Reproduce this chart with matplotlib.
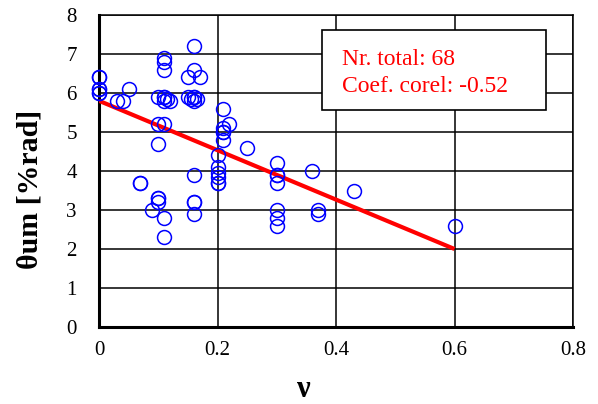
import matplotlib
matplotlib.use("Agg")
import matplotlib.pyplot as plt
from matplotlib.patches import Rectangle
import numpy as np

plt.rcParams['font.family'] = ['Liberation Serif', 'DejaVu Serif']

nu = [0, 0, 0, 0, 0,
      0.03, 0.04, 0.05, 0.07, 0.07, 0.09,
      0.10, 0.10, 0.10, 0.10, 0.10,
      0.11, 0.11, 0.11, 0.11, 0.11, 0.11, 0.11, 0.11,
      0.115, 0.12, 0.15, 0.15, 0.155,
      0.16, 0.16, 0.16, 0.16, 0.16, 0.16, 0.16, 0.16,
      0.165, 0.17,
      0.20, 0.20, 0.20, 0.20, 0.20,
      0.21, 0.21, 0.21, 0.21, 0.22, 0.25,
      0.30, 0.30, 0.30, 0.30, 0.30, 0.30,
      0.36, 0.37, 0.37, 0.43, 0.60,
      0.30, 0.20, 0.21, 0.11, 0.16, 0.10, 0.0]
theta = [6.4, 6.4, 6.1, 6.0, 6.0,
         5.8, 5.8, 6.1, 3.7, 3.7, 3.0,
         5.9, 5.2, 4.7, 3.3, 3.2,
         6.9, 6.8, 6.6, 5.9, 5.8, 5.2, 2.8, 2.3,
         5.85, 5.8, 6.4, 5.9, 5.85,
         7.2, 6.6, 5.9, 5.8, 3.9, 3.2, 3.2, 2.9,
         5.85, 6.4,
         4.4, 4.1, 3.95, 3.85, 3.7,
         5.6, 5.1, 5.0, 4.8, 5.2, 4.6,
         4.2, 3.9, 3.7, 3.0, 2.8, 2.6,
         4.0, 3.0, 2.9, 3.5, 2.6,
         3.9, 3.7, 5.0, 5.9, 5.9, 3.3, 6.1]

fit_x = [0.0, 0.6]
fit_y = [5.8, 2.0]

xticks = [0, 0.2, 0.4, 0.6, 0.8]
xticklabels = ['0', '0.2', '0.4', '0.6', '0.8']
yticks = [0, 1, 2, 3, 4, 5, 6, 7, 8]

box_lines = ['Nr. total: 68', 'Coef. corel: -0.52']

fig = plt.figure(figsize=(5.98, 4.04), dpi=100)
ax = fig.add_axes([99/598, 1-327/404, 474/598, 312/404])

ax.set_xlim(0, 0.8)
ax.set_ylim(0, 8)
ax.set_xticks(xticks)
ax.set_xticklabels(xticklabels)
ax.set_yticks(yticks)
ax.grid(True, color='black', linewidth=1.1)
ax.set_axisbelow(True)
ax.tick_params(axis='both', length=0, labelsize=15)
ax.tick_params(axis='y', pad=16)
ax.tick_params(axis='x', pad=10)

for s in ['left', 'bottom']:
    ax.spines[s].set_linewidth(2.2)
for s in ['top', 'right']:
    ax.spines[s].set_linewidth(1.1)

ax.plot(fit_x, fit_y, color='#ff0000', linewidth=3, zorder=3, solid_capstyle='butt')
ax.plot(nu, theta, linestyle='none', marker='o', markersize=10,
        markerfacecolor='none', markeredgecolor='#0000ff', markeredgewidth=1.1,
        zorder=4, clip_on=False)

ax.set_xlabel('ν', fontsize=22, fontweight='bold', va='center')
ax.xaxis.set_label_coords(0.432, -0.199)
ax.set_ylabel('θum [%rad]', fontsize=21.5, fontweight='bold', va='center')
ax.yaxis.set_label_coords(-0.146, 0.442)

ax.add_patch(Rectangle((0.470, 0.6955), 0.473, 0.2565, transform=ax.transAxes,
                       facecolor='white', edgecolor='black', linewidth=1.2, zorder=5))
ax.text(0.512, 0.840, box_lines[0], transform=ax.transAxes, color='#ff0000',
        fontsize=17, zorder=6, va='baseline')
ax.text(0.512, 0.752, box_lines[1], transform=ax.transAxes, color='#ff0000',
        fontsize=17, zorder=6, va='baseline')

fig.savefig('out.png', dpi=100)
